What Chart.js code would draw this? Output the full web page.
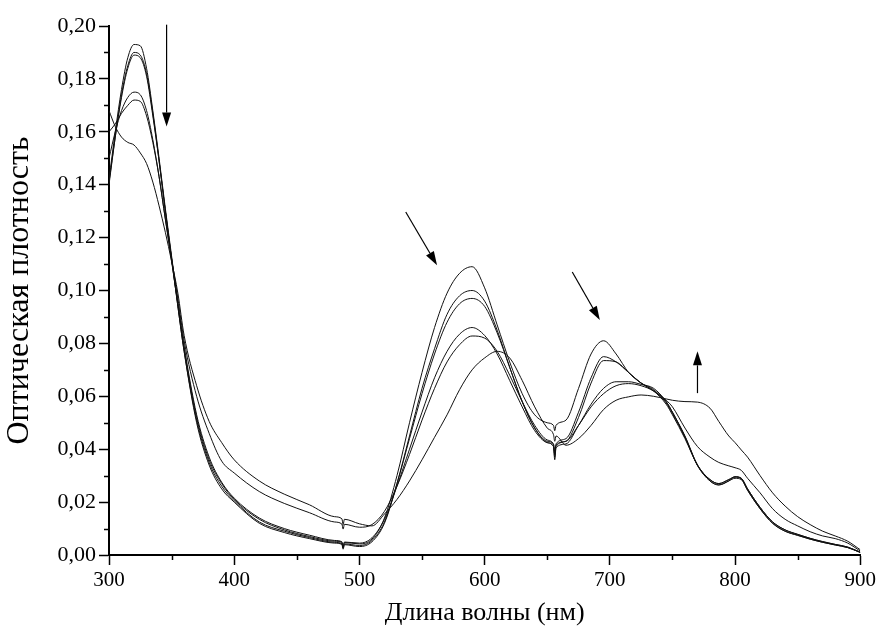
<!DOCTYPE html>
<html>
<head>
<meta charset="utf-8">
<script src="https://cdn.jsdelivr.net/npm/chart.js@4.4.0/dist/chart.umd.min.js"></script>
<style>
  html, body { margin: 0; padding: 0; background: #fff; }
  #wrap { width: 879px; height: 635px; }
</style>
</head>
<body>
<div id="wrap"><canvas id="spectra"></canvas></div>
<script>
// wavelength grid, nm
const wavelengths = [300,305,310,315,320,325,330,335,340,345,350,355,360,370,380,390,400,420,440,460,480,486,487,488,500,510,520,530,540,550,560,570,580,590,600,610,620,630,640,650,655,656,657,665,675,685,695,705,715,725,735,745,750,760,770,780,787,795,800,805,810,820,830,840,850,860,870,880,890,900]

// optical density, one array per spectrum (first -> last)
const spec1 = [0.142,0.160,0.176,0.188,0.193,0.1925,0.184,0.168,0.150,0.131,0.113,0.095,0.078,0.052,0.036,0.027,0.021,0.0135,0.0095,0.007,0.0052,0.0048,0.0030,0.0047,0.0042,0.006,0.014,0.030,0.050,0.069,0.086,0.099,0.1065,0.109,0.101,0.087,0.073,0.061,0.053,0.050,0.049,0.047,0.049,0.051,0.063,0.076,0.081,0.076,0.069,0.065,0.062,0.058,0.054,0.045,0.034,0.028,0.0265,0.028,0.0296,0.029,0.025,0.018,0.0125,0.0095,0.0078,0.0063,0.0051,0.004,0.003,0.001]
const spec2 = [0.140,0.158,0.174,0.185,0.190,0.189,0.182,0.167,0.149,0.130,0.112,0.094,0.077,0.050,0.034,0.025,0.020,0.012,0.0085,0.0062,0.0045,0.0040,0.0022,0.0039,0.0032,0.005,0.012,0.027,0.045,0.063,0.078,0.091,0.098,0.100,0.096,0.085,0.071,0.058,0.048,0.043,0.042,0.039,0.042,0.044,0.054,0.067,0.075,0.073,0.069,0.065,0.062,0.057,0.053,0.044,0.034,0.0285,0.027,0.0285,0.0295,0.0288,0.0245,0.0175,0.012,0.009,0.0075,0.006,0.0048,0.0038,0.0028,0.001]
const spec3 = [0.141,0.158,0.173,0.184,0.189,0.188,0.181,0.166,0.149,0.130,0.112,0.094,0.077,0.051,0.035,0.026,0.0205,0.0125,0.009,0.0066,0.0048,0.0043,0.0026,0.0042,0.0036,0.0055,0.0125,0.027,0.044,0.061,0.076,0.088,0.095,0.097,0.094,0.084,0.071,0.058,0.048,0.0425,0.041,0.037,0.041,0.043,0.052,0.065,0.0735,0.073,0.069,0.065,0.0625,0.0575,0.0535,0.0445,0.0338,0.028,0.0265,0.028,0.029,0.0285,0.0245,0.0175,0.012,0.009,0.0074,0.006,0.0048,0.0038,0.0028,0.001]
const spec4 = [0.150,0.160,0.168,0.173,0.175,0.174,0.168,0.157,0.143,0.127,0.111,0.095,0.079,0.053,0.037,0.0275,0.0215,0.014,0.010,0.0075,0.0055,0.005,0.0033,0.0049,0.0045,0.0065,0.0135,0.026,0.040,0.054,0.067,0.077,0.0835,0.086,0.083,0.076,0.066,0.056,0.047,0.0425,0.041,0.036,0.0405,0.042,0.049,0.057,0.063,0.0655,0.0655,0.0645,0.063,0.058,0.054,0.0448,0.034,0.0285,0.027,0.0285,0.0295,0.029,0.025,0.018,0.0125,0.0095,0.0078,0.0063,0.005,0.004,0.003,0.001]
const spec5 = [0.160,0.163,0.167,0.170,0.172,0.1715,0.166,0.156,0.143,0.127,0.112,0.097,0.081,0.060,0.046,0.0355,0.031,0.024,0.0195,0.016,0.0125,0.0117,0.0098,0.0116,0.0105,0.0115,0.0165,0.026,0.038,0.051,0.063,0.073,0.0795,0.0828,0.082,0.077,0.068,0.058,0.049,0.0435,0.0418,0.038,0.0415,0.043,0.049,0.056,0.061,0.064,0.0648,0.064,0.062,0.0585,0.056,0.048,0.041,0.037,0.035,0.0337,0.033,0.032,0.029,0.0235,0.0175,0.0135,0.011,0.0088,0.0072,0.0062,0.0045,0.0015]
const spec6 = [0.168,0.162,0.158,0.156,0.155,0.152,0.148,0.141,0.132,0.122,0.111,0.099,0.083,0.064,0.0505,0.0425,0.036,0.028,0.023,0.019,0.0145,0.0137,0.0115,0.0135,0.0118,0.011,0.0155,0.021,0.028,0.036,0.0445,0.053,0.0625,0.070,0.0745,0.077,0.0745,0.066,0.056,0.048,0.0455,0.043,0.045,0.0415,0.044,0.049,0.055,0.0585,0.0598,0.0605,0.060,0.059,0.0585,0.058,0.0578,0.0555,0.0505,0.045,0.0425,0.0397,0.037,0.030,0.0235,0.0185,0.0145,0.0115,0.009,0.0072,0.0052,0.002]

const xMinorTicks = [350,450,550,650,750,850]
const yMinorTicks = [0.01,0.03,0.05,0.07,0.09,0.11,0.13,0.15,0.17,0.19]

// arrows: [x0, y0, x1, y1] in data units, head at the second point
const arrows = [
  [346, 0.2005, 346, 0.162],
  [537, 0.1297, 562, 0.1095],
  [670, 0.1070, 692, 0.0888],
  [770, 0.0612, 770, 0.0770]
]

const serif = '"Liberation Serif", "Times New Roman", serif'
const allSpectra = [spec1, spec2, spec3, spec4, spec5, spec6]

const minorTickPlugin = {
  id: 'minorTicks',
  afterDraw(chart) {
    const { ctx, chartArea, scales } = chart
    ctx.save()
    ctx.strokeStyle = '#000'
    ctx.lineWidth = 1.5
    ctx.beginPath()
    xMinorTicks.forEach(v => {
      const px = Math.round(scales.x.getPixelForValue(v)) + 0.5
      ctx.moveTo(px, chartArea.bottom)
      ctx.lineTo(px, chartArea.bottom + 5)
    })
    yMinorTicks.forEach(v => {
      const py = Math.round(scales.y.getPixelForValue(v)) + 0.5
      ctx.moveTo(chartArea.left, py)
      ctx.lineTo(chartArea.left - 5, py)
    })
    ctx.stroke()
    ctx.restore()
  }
}

const arrowPlugin = {
  id: 'arrows',
  afterDatasetsDraw(chart) {
    const { ctx, scales } = chart
    ctx.save()
    ctx.strokeStyle = '#000'
    ctx.fillStyle = '#000'
    ctx.lineWidth = 1.2
    arrows.forEach(a => {
      const x0 = scales.x.getPixelForValue(a[0]), y0 = scales.y.getPixelForValue(a[1])
      const x1 = scales.x.getPixelForValue(a[2]), y1 = scales.y.getPixelForValue(a[3])
      const ang = Math.atan2(y1 - y0, x1 - x0)
      const hl = 14, hw = 4.5
      ctx.beginPath()
      ctx.moveTo(x0, y0)
      ctx.lineTo(x1 - hl * Math.cos(ang), y1 - hl * Math.sin(ang))
      ctx.stroke()
      ctx.beginPath()
      ctx.moveTo(x1, y1)
      ctx.lineTo(x1 - hl * Math.cos(ang) + hw * Math.sin(ang), y1 - hl * Math.sin(ang) - hw * Math.cos(ang))
      ctx.lineTo(x1 - hl * Math.cos(ang) - hw * Math.sin(ang), y1 - hl * Math.sin(ang) + hw * Math.cos(ang))
      ctx.closePath()
      ctx.fill()
    })
    ctx.restore()
  }
}

new Chart(document.getElementById('spectra'), {
  type: 'line',
  data: {
    datasets: allSpectra.map(s => ({
      data: wavelengths.map((w, i) => ({ x: w, y: s[i] })),
      borderColor: '#111',
      borderWidth: 1,
      pointRadius: 0,
      fill: false,
      cubicInterpolationMode: 'monotone'
    }))
  },
  options: {
    responsive: true,
    maintainAspectRatio: false,
    animation: false,
    layout: { padding: { top: 26, right: 17, left: 0, bottom: 0 } },
    plugins: { legend: { display: false }, tooltip: { enabled: false } },
    scales: {
      x: {
        type: 'linear',
        min: 300,
        max: 900,
        ticks: { stepSize: 100, color: '#000', padding: 3, font: { family: serif, size: 21 } },
        grid: { drawOnChartArea: false, tickLength: 10, tickColor: '#000', tickWidth: 1.5 },
        border: { color: '#000', width: 2 },
        title: { display: true, text: 'Длина волны (нм)', color: '#000', font: { family: serif, size: 26 }, padding: { top: 4, bottom: 6 } },
        afterFit(scale) { scale.height = 80 }
      },
      y: {
        min: 0,
        max: 0.2,
        ticks: {
          stepSize: 0.02,
          color: '#000',
          padding: 3,
          font: { family: serif, size: 22 },
          callback: v => v.toFixed(2).replace('.', ',')
        },
        grid: { drawOnChartArea: false, tickLength: 10, tickColor: '#000', tickWidth: 1.5 },
        border: { color: '#000', width: 2 },
        title: { display: true, text: 'Оптическая плотность', color: '#000', font: { family: serif, size: 32 }, padding: { top: 0, bottom: 4 } },
        afterFit(scale) { scale.width = 109 }
      }
    }
  },
  plugins: [minorTickPlugin, arrowPlugin]
})
</script>
</body>
</html>
